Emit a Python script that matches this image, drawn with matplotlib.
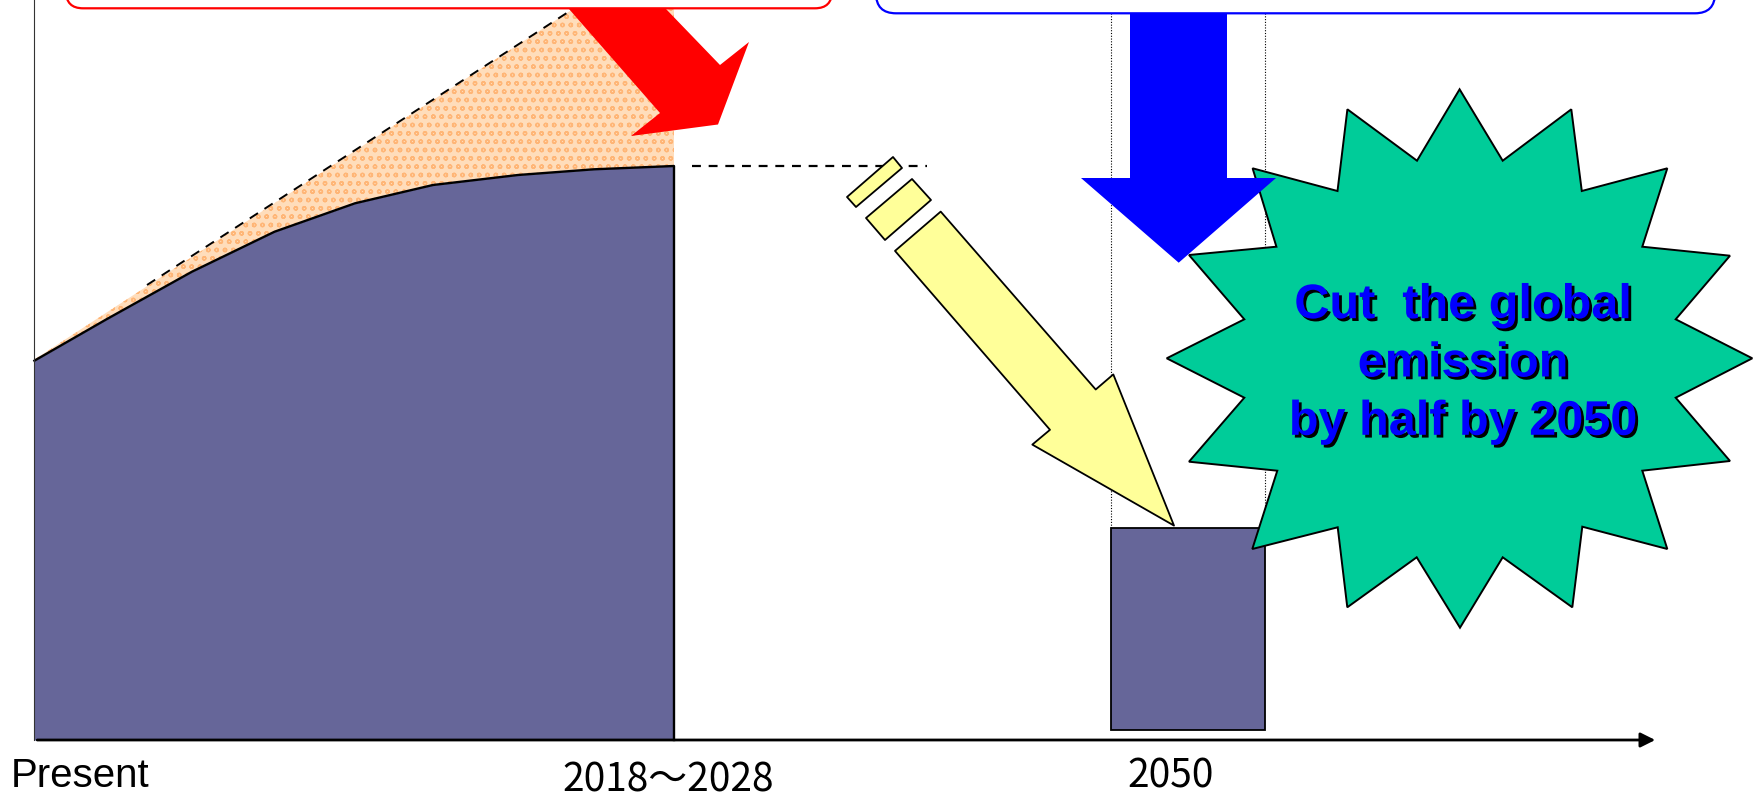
import matplotlib.pyplot as plt
import matplotlib.patheffects as pe
from matplotlib.patches import Polygon, FancyBboxPatch, Rectangle
import numpy as np


# emission path up to 2018-2028 (diagram units, y grows downward)
curve_x = [34.4, 107, 192, 274.6, 355, 433, 518, 594, 674]
curve_y = [360.7, 319, 271.7, 231.7, 203.3, 185, 175, 169.3, 166]
baseline_y = 740

# business-as-usual trend (dashed) and its cap at the top box
trend_x = [147, 574]
trend_y = [285, 8.3]
trend_start = (34.4, 359.5)

# 2050 bar
bar_2050 = dict(x0=1110.6, x1=1265, top=528, bottom=730)
level_line_x = [692, 927]
level_line_y = 165.7

labels = ["Present", "2018\u301c2028", "2050"]
label_x = [11, 668, 1171]
label_y = [776, 780, 776]

star_text = "Cut  the global\nemission\nby half by 2050"

red_arrow = [(569, 9), (660, 113), (631, 136), (718, 124.5), (749, 42), (720, 65), (666, 9)]
blue_arrow = [(1130, 13), (1130, 178), (1081, 178), (1178.7, 262.7),
              (1276, 178), (1227, 178), (1227, 13)]
pencil_body = [(895, 250.9), (940.7, 211.6), (1095.7, 389.5), (1113.3, 374.4),
               (1174, 525.6), (1032.3, 444.6), (1050, 429.8)]
pencil_mid = [(866, 218), (912, 179), (931, 200), (885, 240)]
pencil_tip = [(847, 197), (893, 157), (902, 168), (856, 207)]

star_pts = [(1459.6, 89.3), (1502.7, 160.7), (1571.3, 109.3), (1581.8, 191),
            (1667.3, 168.3), (1642.3, 246.7), (1730, 255.7), (1675.7, 319.3),
            (1752.3, 358.3), (1675.7, 397.7), (1730, 461), (1642.3, 470.7),
            (1667.3, 549), (1582.3, 526.7), (1572.3, 607.3), (1502.7, 557.3),
            (1460, 627.7), (1416.7, 557.3), (1347.3, 607.3), (1337.7, 527.3),
            (1252.3, 549), (1277.3, 470.7), (1189, 461.7), (1244.3, 397.7),
            (1166.7, 358.3), (1244.3, 319.3), (1189, 255), (1276.4, 246.7),
            (1252.6, 168.3), (1337.5, 191), (1347.4, 109.3), (1417, 160.7)]

PURPLE = "#666699"

fig = plt.figure(figsize=(17.62, 8.02), dpi=100)
ax = fig.add_axes([0, 0, 1, 1])
ax.set_xlim(0, 1762)
ax.set_ylim(802, 0)
ax.axis("off")

# orange "reduction" area between trend and actual path
orange = list(zip(curve_x, curve_y)) + [(curve_x[-1], trend_y[-1]), (trend_x[-1], trend_y[-1]), trend_start]
ax.add_patch(Polygon(orange, closed=True, facecolor="#FFDDBB", edgecolor="#FFB677",
                     hatch="oo", linewidth=0, zorder=1))
ax.plot(trend_x, trend_y, color="black", linewidth=1.4, dashes=(5, 4), zorder=2)

# purple emission area
ax.fill_between(curve_x, curve_y, baseline_y, color=PURPLE, linewidth=0, zorder=2)
ax.plot(curve_x + [curve_x[-1]], curve_y + [baseline_y], color="black", linewidth=1.7, zorder=3)

ax.add_patch(Polygon(red_arrow, closed=True, facecolor="#FF0000", edgecolor="none", zorder=4))
ax.add_patch(FancyBboxPatch((66, -80), 766, 88.3, boxstyle="round,pad=0,rounding_size=17",
                            facecolor="white", edgecolor="#FF0000", linewidth=1.6, zorder=5))

ax.plot(level_line_x, [level_line_y] * 2, color="black", linewidth=1.6, dashes=(4, 3.5), zorder=3)

for vx in (bar_2050["x0"], bar_2050["x1"]):
    ax.plot([vx, vx], [13, bar_2050["top"]], color="black", linewidth=0.8,
            linestyle=(0, (1, 1.5)), zorder=3)

ax.add_patch(Rectangle((bar_2050["x0"], bar_2050["top"]), bar_2050["x1"] - bar_2050["x0"],
                       bar_2050["bottom"] - bar_2050["top"], facecolor=PURPLE,
                       edgecolor="black", linewidth=1.3, zorder=4))

for pts in (pencil_tip, pencil_mid, pencil_body):
    ax.add_patch(Polygon(pts, closed=True, facecolor="#FFFF99", edgecolor="black",
                         linewidth=1.3, joinstyle="round", zorder=6))

ax.add_patch(Polygon(star_pts, closed=True, facecolor="#00CC99", edgecolor="black",
                     linewidth=1.4, zorder=7))
ax.add_patch(Polygon(blue_arrow, closed=True, facecolor="#0000FF", edgecolor="none", zorder=8))
ax.add_patch(FancyBboxPatch((876, -80), 839, 93.3, boxstyle="round,pad=0,rounding_size=20",
                            facecolor="white", edgecolor="#0000FF", linewidth=1.6, zorder=9))

ax.text(1463, 364, star_text, ha="center", va="center", fontsize=35, fontweight="bold",
        family="Liberation Sans", color="#0000FF", linespacing=1.38, zorder=10,
        path_effects=[pe.withSimplePatchShadow(offset=(2, -2), shadow_rgbFace="black", alpha=1)])

# axes
ax.plot([34.4, 34.4], [0, baseline_y], color="#333333", linewidth=0.8, zorder=3)
ax.annotate("", xy=(1658, baseline_y), xytext=(34.4, baseline_y),
            arrowprops=dict(arrowstyle="-|>", color="black", linewidth=2.0, mutation_scale=22),
            zorder=4)

ax.text(label_x[0], label_y[0], labels[0], ha="left", va="center", fontsize=29,
        family="Liberation Sans")
for lx, ly, lab in zip(label_x[1:], label_y[1:], labels[1:]):
    ax.text(lx, ly, lab, ha="center", va="center", fontsize=28,
            family=["Noto Sans CJK JP", "DejaVu Sans"])

fig.savefig("out.png", dpi=100)
